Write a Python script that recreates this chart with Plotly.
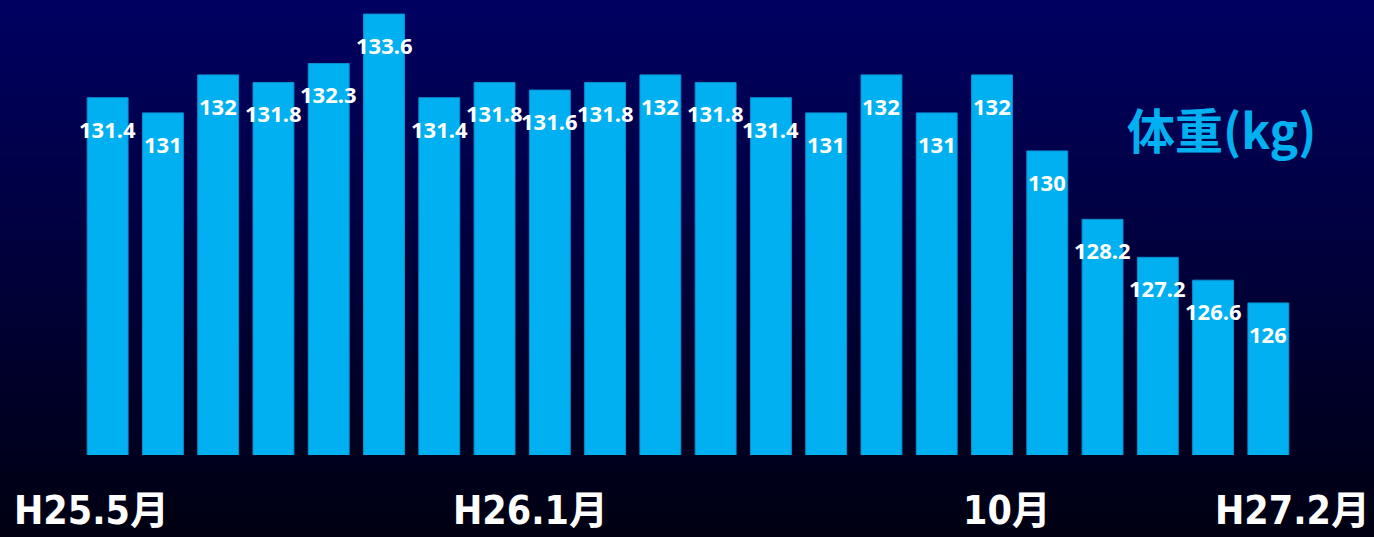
import plotly.graph_objects as go

# Data
months = ["H25.5", "H25.6", "H25.7", "H25.8", "H25.9", "H25.10", "H25.11", "H25.12",
          "H26.1", "H26.2", "H26.3", "H26.4", "H26.5", "H26.6", "H26.7", "H26.8",
          "H26.9", "H26.10", "H26.11", "H26.12", "H27.1", "H27.2"]
weights = [131.4, 131, 132, 131.8, 132.3, 133.6, 131.4, 131.8, 131.6, 131.8, 132,
           131.8, 131.4, 131, 132, 131, 132, 130, 128.2, 127.2, 126.6, 126]
axis_label_months = ["H25.5", "H26.1", "H26.10", "H27.2"]
axis_label_texts = ["H25.5月", "H26.1月", "10月", "H27.2月"]
title_text = "体重(kg)"

# Styles
W, H = 1374, 537
ML, MR, MT, MB = 80, 78, 0, 82
label_xshifts = [-16, -19, -40, 24]
bar_color = "#00B0F0"

fig = go.Figure()
fig.add_trace(go.Bar(
    x=months, y=weights,
    marker=dict(color=bar_color, line=dict(color="#0A8FD0", width=1)),
    width=0.74, hoverinfo="x+y",
))

# value labels
for m, v in zip(months, weights):
    fig.add_annotation(
        x=m, y=v, text=f"<b>{v:g}</b>", showarrow=False,
        yanchor="middle", yshift=-31,
        font=dict(family="Noto Sans, Open Sans, sans-serif", size=22, color="white"),
    )

# x axis labels
for m, t, dx in zip(axis_label_months, axis_label_texts, label_xshifts):
    fig.add_annotation(
        x=m, y=0, yref="paper", text=f"<b>{t}</b>", showarrow=False,
        yanchor="middle", yshift=-55, xshift=dx,
        font=dict(family="Liberation Sans Narrow, DejaVu Sans Condensed, Noto Sans CJK JP, sans-serif",
                  size=39, color="white"),
    )

# title
fig.add_annotation(
    x=(1221 - ML) / (W - ML - MR), y=1 - 128 / (H - MT - MB), xref="paper", yref="paper",
    text=f"<b>{title_text}</b>", showarrow=False, xanchor="center", yanchor="middle",
    font=dict(family="Noto Sans CJK JP, sans-serif", size=48, color="#00B0F0"),
)

# gradient background bands
pw = W - ML - MR
ph = H - MT - MB
n = 90
shapes = []
top_c = (0, 0, 98)
bot_c = (0, 0, 18)
for i in range(n):
    f0 = i / n
    f1 = (i + 1) / n
    fm = (i + 0.5) / n
    r = round(top_c[0] + (bot_c[0] - top_c[0]) * fm)
    g = round(top_c[1] + (bot_c[1] - top_c[1]) * fm)
    b = round(top_c[2] + (bot_c[2] - top_c[2]) * fm)
    y_top_px = f0 * H
    y_bot_px = f1 * H + 1
    shapes.append(dict(
        type="rect", xref="paper", yref="paper", layer="below",
        x0=-ML / pw, x1=1 + MR / pw,
        y0=1 - (y_bot_px - MT) / ph, y1=1 - (y_top_px - MT) / ph,
        fillcolor=f"rgb({r},{g},{b})", line=dict(width=0),
    ))

fig.update_layout(
    width=W, height=H,
    margin=dict(l=ML, r=MR, t=MT, b=MB),
    paper_bgcolor="rgb(0,0,18)", plot_bgcolor="rgba(0,0,0,0)",
    shapes=shapes, showlegend=False,
    xaxis=dict(showticklabels=False, showgrid=False, zeroline=False, showline=False,
               range=[-0.5, len(months) - 0.5]),
    yaxis=dict(showticklabels=False, showgrid=False, zeroline=False, showline=False,
               range=[122, 133.97]),
)

fig.write_html(
    "out.html",
    config={"displayModeBar": False},
    post_script="document.body.style.margin='0';document.body.style.overflow='hidden';",
)
